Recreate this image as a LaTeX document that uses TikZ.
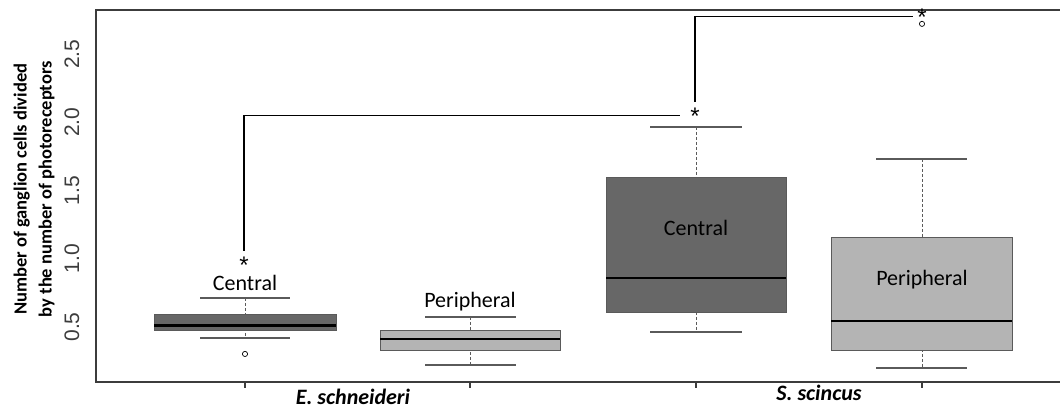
\documentclass[tikz,border=0pt]{standalone}
\usepackage{fontspec}
\setmainfont{Carlito}
\newfontfamily\ticksfont{Liberation Sans}
\usetikzlibrary{positioning}

\definecolor{centralgray}{HTML}{676767}
\definecolor{periphgray}{HTML}{B4B4B4}
\definecolor{edgegray}{HTML}{5A5A5A}
\definecolor{axisgray}{HTML}{3C3C3C}

\begin{document}
\begin{tikzpicture}[x=1pt, y=136.4pt, thick,
        boxedge/.style={draw=edgegray, line width=0.8pt},
        median/.style={black, line width=2.4pt},
        whisker/.style={edgegray, line width=1pt, dash pattern=on 3pt off 2pt},
        capline/.style={edgegray, line width=1.3pt},
        outlier/.style={draw=black, line width=0.7pt, fill=white},
        ticklabel/.style={font=\ticksfont\fontsize{21}{24}\selectfont, text=axisgray, rotate=90},
        grouplabel/.style={font=\fontsize{22}{26}\selectfont, inner sep=0pt},
        star/.style={font=\ticksfont\fontsize{24}{26}\selectfont, inner sep=0pt, text height=17.2pt, text depth=-10.3pt},
        species/.style={font=\bfseries\itshape\fontsize{22}{26}\selectfont, inner sep=0pt}]
        \useasboundingbox (0, -0.094) rectangle (1060, 2.897);

        % frame and axes
        \draw[axisgray, line width=1.3pt] (1060, 2.824) -- (96, 2.824) -- (96, 0.097) -- (1060, 0.097);
        \draw[axisgray, line width=1.3pt] (245, 0.097) -- (245, 0.053);
        \draw[axisgray, line width=1.3pt] (470, 0.097) -- (470, 0.053);
        \draw[axisgray, line width=1.3pt] (696, 0.097) -- (696, 0.053);
        \draw[axisgray, line width=1.3pt] (922, 0.097) -- (922, 0.053);

        \node[ticklabel] (t05) at (72, 0.5) {0.5};
        \node[ticklabel] (t10) at (72, 1.0) {1.0};
        \node[ticklabel] (t15) at (72, 1.5) {1.5};
        \node[ticklabel] (t20) at (72, 2.0) {2.0};
        \node[ticklabel] (t25) at (72, 2.5) {2.5};
        \node[rotate=90, align=center, font=\bfseries\fontsize{18.5}{25}\selectfont] (ylabel) at (34, 1.51)
            {Number of ganglion cells divided\\by the number of photoreceptors};

        \node[species] (eschn) at (353, -0.01) {E. schneideri};
        \node[species] (sscin) at (819, 0.016) {S. scincus};

        % E. SCHNEIDERI CENTRAL
        \draw[whisker] (245, 0.713) -- (245, 0.419);
        \draw[capline] (200, 0.713) -- (290, 0.713);
        \draw[capline] (200, 0.419) -- (290, 0.419);
        \draw[boxedge, fill=centralgray] (154, 0.473) rectangle (336, 0.595);
        \draw[median] (154, 0.511) -- (336, 0.511);
        \draw[outlier] (245, 0.302) circle (2.6pt);
        \node[grouplabel] (ecent) at (245, 0.823) {Central};
        % E. SCHNEIDERI PERIPHERAL
        \draw[whisker] (470, 0.573) -- (470, 0.221);
        \draw[capline] (425, 0.573) -- (516, 0.573);
        \draw[capline] (425, 0.221) -- (516, 0.221);
        \draw[boxedge, fill=periphgray] (380, 0.331) rectangle (560, 0.478);
        \draw[median] (380, 0.412) -- (560, 0.412);
        \node[grouplabel] (eperi) at (470, 0.684) {Peripheral};
        % S. SCINCUS CENTRAL
        \draw[whisker] (696, 1.966) -- (696, 0.463);
        \draw[capline] (650, 1.966) -- (742, 1.966);
        \draw[capline] (650, 0.463) -- (742, 0.463);
        \draw[boxedge, fill=centralgray] (606, 0.610) rectangle (786, 1.600);
        \draw[median] (606, 0.859) -- (786, 0.859);
        \node[grouplabel] (scent) at (696, 1.226) {Central};
        % S. SCINCUS PERIPHERAL
        \draw[whisker] (922, 1.732) -- (922, 0.199);
        \draw[capline] (876, 1.732) -- (967, 1.732);
        \draw[capline] (876, 0.199) -- (967, 0.199);
        \draw[boxedge, fill=periphgray] (831, 0.331) rectangle (1012, 1.153);
        \draw[median] (831, 0.544) -- (1012, 0.544);
        \draw[outlier] (922, 2.722) circle (2.6pt);
        \node[grouplabel] (speri) at (922, 0.845) {Peripheral};

        % significance
        \node[star] (starA) at (244, 0.955) {*};
        \node[star] (starB) at (695, 2.048) {*};
        \node[star] (starC) at (922, 2.775) {*};
        \draw[black, line width=1.3pt] ([yshift=5pt]starA.north) |- ([xshift=-10pt]starB.west);
        \draw[black, line width=1.3pt] ([yshift=5pt]starB.north) |- ([xshift=-4pt]starC.west);
    \end{tikzpicture}
\end{document}
